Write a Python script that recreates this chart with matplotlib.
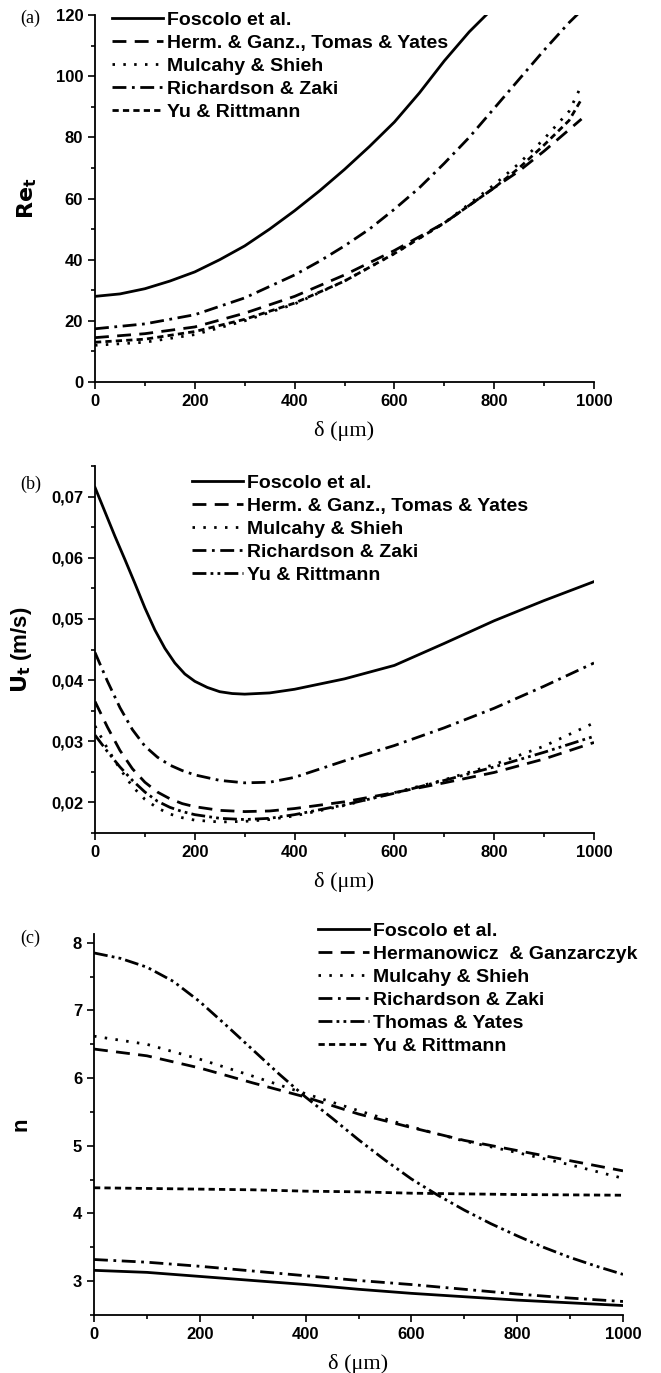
import matplotlib
matplotlib.use("Agg")
import matplotlib.pyplot as plt
from matplotlib.ticker import MultipleLocator, FuncFormatter

# fonts
plt.rcParams['font.family'] = ['Liberation Sans Narrow', 'Liberation Sans', 'DejaVu Sans']
plt.rcParams['font.weight'] = 'bold'
plt.rcParams['axes.labelweight'] = 'bold'
plt.rcParams['mathtext.fontset'] = 'custom'
plt.rcParams['mathtext.rm'] = 'Liberation Sans Narrow:bold'
plt.rcParams['mathtext.bf'] = 'Liberation Sans Narrow:bold'
plt.rcParams['mathtext.it'] = 'Liberation Sans Narrow:bold'
plt.rcParams['lines.scale_dashes'] = False

# ---- panel (a): Re_t ----
a_fos_x = [0, 50, 100, 150, 200, 250, 300, 350, 400, 450, 500, 550, 600, 650, 700, 750, 790]
a_fos_y = [28, 28.8, 30.5, 33, 36, 40, 44.5, 50, 56, 62.5, 69.5, 77, 85, 94.5, 105, 114.5, 121]
a_rz_x = [0, 100, 200, 300, 400, 450, 500, 550, 600, 650, 700, 750, 800, 850, 900, 950, 975]
a_rz_y = [17.4, 19, 22, 27.5, 35, 39.5, 44.5, 50, 56.5, 63.5, 71.5, 80, 89.5, 99, 108.5, 117.5, 121.5]
a_x = [0, 100, 200, 300, 400, 500, 600, 700, 800, 850, 900, 950, 975]
a_herm = [14.5, 15.8, 18, 22.5, 28, 35, 43, 52, 63.5, 69, 75.5, 82.5, 86]
a_mulc = [12, 13, 15.5, 20, 25.5, 33, 42, 52, 64.5, 71.5, 79.5, 88.5, 97]
a_yu = [13, 14, 16.5, 20.5, 25.8, 33, 42, 52, 63.5, 70, 77.5, 85.5, 92.5]

# ---- panel (b): U_t ----
b_fos_x = [0, 20, 40, 60, 80, 100, 120, 140, 160, 180, 200, 225, 250, 275, 300, 350, 400,
           500, 600, 700, 800, 900, 1000]
b_fos = [0.0715, 0.0675, 0.0635, 0.0597, 0.0558, 0.0518, 0.0482, 0.0452, 0.0428, 0.0410,
         0.0398, 0.0388, 0.0381, 0.0378, 0.0377, 0.0379, 0.0385, 0.0402, 0.0424, 0.0460,
         0.0497, 0.0530, 0.0561]
b_x = [0, 25, 50, 75, 100, 125, 150, 175, 200, 250, 300, 350, 400, 500, 600, 700, 800, 900, 1000]
b_rz = [0.0445, 0.0398, 0.0355, 0.0319, 0.0292, 0.0274, 0.0261, 0.0252, 0.0245, 0.0236, 0.0232,
        0.0233, 0.0241, 0.0268, 0.0293, 0.0322, 0.0354, 0.039, 0.0428]
b_herm = [0.0365, 0.0323, 0.0285, 0.0255, 0.0233, 0.0217, 0.0206, 0.0198, 0.0193, 0.0187, 0.0185,
          0.0186, 0.019, 0.0201, 0.0216, 0.0232, 0.0249, 0.0271, 0.0298]
b_mulc = [0.0325, 0.0288, 0.0255, 0.0226, 0.0205, 0.0191, 0.0181, 0.0175, 0.0171, 0.0168, 0.0169,
          0.0172, 0.0178, 0.0195, 0.0216, 0.0237, 0.0262, 0.0292, 0.033]
b_yu = [0.031, 0.0283, 0.0258, 0.0236, 0.0217, 0.0202, 0.0192, 0.0185, 0.018, 0.0174, 0.0172,
        0.0174, 0.018, 0.0196, 0.0215, 0.0236, 0.0258, 0.0282, 0.0308]

# ---- panel (c): n ----
c_x = [0, 100, 200, 300, 400, 500, 600, 700, 800, 900, 1000]
c_fos = [3.16, 3.13, 3.07, 3.01, 2.95, 2.88, 2.82, 2.77, 2.72, 2.68, 2.64]
c_herm = [6.43, 6.33, 6.15, 5.93, 5.72, 5.47, 5.27, 5.08, 4.93, 4.78, 4.63]
c_mulc = [6.62, 6.5, 6.28, 6.03, 5.77, 5.52, 5.28, 5.07, 4.9, 4.72, 4.52]
c_rz = [3.32, 3.28, 3.22, 3.15, 3.08, 3.01, 2.95, 2.88, 2.81, 2.75, 2.70]
c_ty_x = [0, 50, 100, 150, 200, 250, 300, 350, 400, 450, 500, 550, 600, 650, 700, 750, 800, 850, 900, 950, 1000]
c_ty = [7.85, 7.77, 7.64, 7.43, 7.13, 6.78, 6.42, 6.06, 5.72, 5.41, 5.09, 4.79, 4.51, 4.27, 4.05, 3.85,
        3.67, 3.5, 3.35, 3.22, 3.1]
c_yu = [4.38, 4.37, 4.36, 4.35, 4.33, 4.32, 4.30, 4.29, 4.28, 4.275, 4.27]

# line styles
SOLID = '-'
DASH = (0, (10, 6))
DOT = (0, (1.8, 6))
DASHDOT = (0, (10, 4, 2, 4))
SHORT = (0, (4.5, 3))
DASHDOTDOT = (0, (10, 3, 2, 3, 2, 3))
LW = 2.0

W, H = 661, 1373
fig = plt.figure(figsize=(W / 100, H / 100), dpi=100)


def make_ax(l, r, t, b):
    ax = fig.add_axes([l / W, 1 - b / H, (r - l) / W, (b - t) / H])
    ax.spines['top'].set_visible(False)
    ax.spines['right'].set_visible(False)
    ax.spines['left'].set_linewidth(1.3)
    ax.spines['bottom'].set_linewidth(1.3)
    ax.tick_params(which='major', direction='out', length=5, width=1.2, labelsize=12)
    ax.tick_params(which='minor', direction='out', length=3, width=1.2)
    ax.xaxis.set_major_locator(MultipleLocator(200))
    ax.xaxis.set_minor_locator(MultipleLocator(100))
    ax.set_xlim(0, 1000)
    ax.set_xlabel('δ (μm)', family=['Liberation Serif', 'DejaVu Serif'], weight='normal',
                  fontsize=16, labelpad=9)
    return ax


def legend(ax, x, y):
    ax.legend(loc='upper left', bbox_to_anchor=(x / W, 1 - y / H), bbox_transform=fig.transFigure,
              frameon=False, fontsize=14, handlelength=2.6, handletextpad=0.25, labelspacing=0.28,
              borderpad=0, borderaxespad=0)


# (a)
ax = make_ax(95, 594, 15, 382)
ax.plot(a_fos_x, a_fos_y, color='k', lw=LW, ls=SOLID, label='Foscolo et al.')
ax.plot(a_x, a_herm, color='k', lw=LW, ls=DASH, label='Herm. & Ganz., Tomas & Yates')
ax.plot(a_x, a_mulc, color='k', lw=LW, ls=DOT, label='Mulcahy & Shieh')
ax.plot(a_rz_x, a_rz_y, color='k', lw=LW, ls=DASHDOT, label='Richardson & Zaki')
ax.plot(a_x, a_yu, color='k', lw=LW, ls=SHORT, label='Yu & Rittmann')
ax.set_ylim(0, 120)
ax.yaxis.set_major_locator(MultipleLocator(20))
ax.yaxis.set_minor_locator(MultipleLocator(10))
ax.set_ylabel(r'$\mathbf{Re_t}$', fontsize=16, labelpad=12)
legend(ax, 112, 11)
fig.text(20 / W, 1 - 18 / H, '(a)', family=['Liberation Serif', 'DejaVu Serif'], weight='normal',
         fontsize=13, va='center')

# (b)
ax = make_ax(95, 594, 466, 833)
ax.plot(b_fos_x, b_fos, color='k', lw=LW, ls=SOLID, label='Foscolo et al.')
ax.plot(b_x, b_herm, color='k', lw=LW, ls=DASH, label='Herm. & Ganz., Tomas & Yates')
ax.plot(b_x, b_mulc, color='k', lw=LW, ls=DOT, label='Mulcahy & Shieh')
ax.plot(b_x, b_rz, color='k', lw=LW, ls=DASHDOT, label='Richardson & Zaki')
ax.plot(b_x, b_yu, color='k', lw=LW, ls=DASHDOTDOT, label='Yu & Rittmann')
ax.set_ylim(0.015, 0.075)
ax.yaxis.set_major_locator(MultipleLocator(0.01))
ax.yaxis.set_minor_locator(MultipleLocator(0.005))
ax.yaxis.set_major_formatter(FuncFormatter(lambda v, p: ('%.2f' % v).replace('.', ',')))
ax.set_ylabel(r'$\mathbf{U_t}$ (m/s)', fontsize=16, labelpad=12)
legend(ax, 192, 474)
fig.text(20 / W, 1 - 484 / H, '(b)', family=['Liberation Serif', 'DejaVu Serif'], weight='normal',
         fontsize=13, va='center')

# (c)
ax = make_ax(94, 623, 934, 1315)
ax.plot(c_x, c_fos, color='k', lw=LW, ls=SOLID, label='Foscolo et al.')
ax.plot(c_x, c_herm, color='k', lw=LW, ls=DASH, label='Hermanowicz  & Ganzarczyk')
ax.plot(c_x, c_mulc, color='k', lw=LW, ls=DOT, label='Mulcahy & Shieh')
ax.plot(c_x, c_rz, color='k', lw=LW, ls=DASHDOT, label='Richardson & Zaki')
ax.plot(c_ty_x, c_ty, color='k', lw=LW, ls=DASHDOTDOT, label='Thomas & Yates')
ax.plot(c_x, c_yu, color='k', lw=LW, ls=SHORT, label='Yu & Rittmann')
ax.set_ylim(2.5, 8.13)
ax.yaxis.set_major_locator(MultipleLocator(1))
ax.yaxis.set_minor_locator(MultipleLocator(0.5))
ax.set_ylabel('n', fontsize=16, labelpad=30)
legend(ax, 318, 922)
fig.text(20 / W, 1 - 938 / H, '(c)', family=['Liberation Serif', 'DejaVu Serif'], weight='normal',
         fontsize=13, va='center')

fig.savefig('out.png', dpi=100)
